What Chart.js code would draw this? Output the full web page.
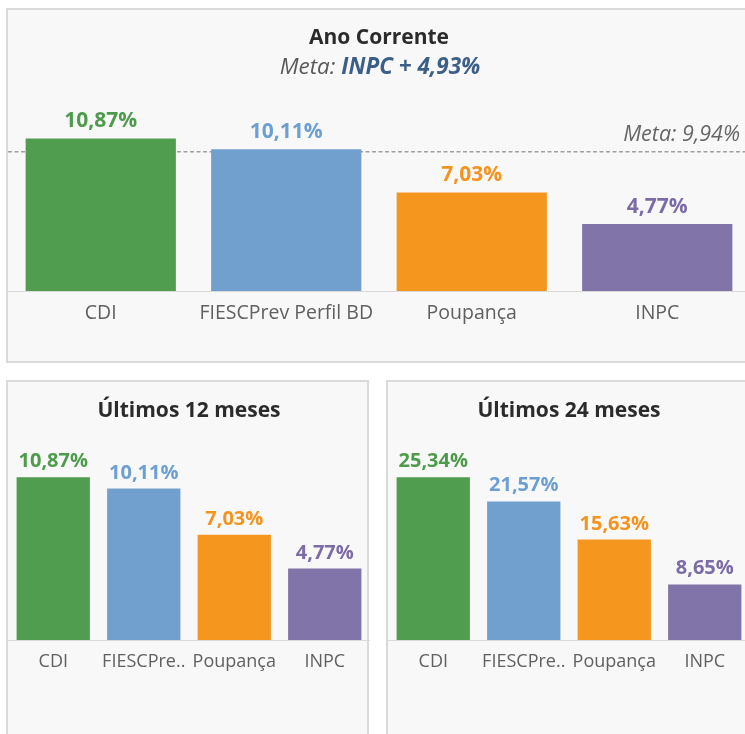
<!DOCTYPE html>
<html>
<head>
<meta charset="utf-8">
<script src="https://cdn.jsdelivr.net/npm/chart.js@4.4.0/dist/chart.umd.min.js"></script>
<style>
  html, body { margin: 0; padding: 0; background: #fff; width: 745px; height: 734px; overflow: hidden; }
  .panel { position: absolute; box-sizing: border-box; border: 2px solid #dadada; background: #f8f8f8; }
  canvas { position: absolute; }
</style>
</head>
<body>
<div class="panel" style="left:6px;top:8px;width:800px;height:355px"></div>
<div class="panel" style="left:6px;top:380px;width:363px;height:400px"></div>
<div class="panel" style="left:386px;top:380px;width:400px;height:400px"></div>
<canvas id="anoCorrente" width="742" height="350" style="left:8px;top:10px"></canvas>
<canvas id="ultimos12" width="362" height="351" style="left:8px;top:383px"></canvas>
<canvas id="ultimos24" width="362" height="351" style="left:388px;top:383px"></canvas>
<script>
const categories = ['CDI', 'FIESCPrev Perfil BD', 'Poupança', 'INPC'];
const anoCorrente = [10.87, 10.11, 7.03, 4.77];
const ultimos12Meses = [10.87, 10.11, 7.03, 4.77];
const ultimos24Meses = [25.34, 21.57, 15.63, 8.65];
const metaAno = 9.94;
const metaSubtitulo = 'INPC + 4,93%';

const barColors = ['#519d50', '#71a0cf', '#f5961f', '#8174a8'];
const labelColors = ['#4e9b4c', '#6c9fd3', '#f4931e', '#7c6ba7'];
const FONT = "'Open Sans', sans-serif";
const HEADROOM = 1.288;

Chart.defaults.font.family = FONT;

const fmt = v => v.toFixed(2).replace('.', ',') + '%';

// percent labels above each bar
const valueLabels = {
  id: 'valueLabels',
  afterDatasetsDraw(chart, args, opts) {
    const ctx = chart.ctx;
    const data = chart.data.datasets[0].data;
    ctx.save();
    ctx.font = 'bold ' + opts.size + 'px ' + FONT;
    ctx.textAlign = 'center';
    ctx.textBaseline = 'alphabetic';
    chart.getDatasetMeta(0).data.forEach((bar, i) => {
      ctx.fillStyle = labelColors[i];
      ctx.fillText(fmt(data[i]), bar.x, bar.y - opts.gap);
    });
    ctx.restore();
  }
};

// dashed target line + "Meta: x%" text
const metaLine = {
  id: 'metaLine',
  beforeDatasetsDraw(chart, args, opts) {
    if (opts.value == null) return;
    const {ctx, chartArea} = chart;
    const y = chart.scales.y.getPixelForValue(opts.value);
    ctx.save();
    ctx.strokeStyle = '#a0a0a0';
    ctx.lineWidth = 1.5;
    ctx.setLineDash([4, 2.5]);
    ctx.beginPath();
    ctx.moveTo(chartArea.left, y);
    ctx.lineTo(chartArea.right, y);
    ctx.stroke();
    ctx.setLineDash([]);
    ctx.font = 'italic 21.5px ' + FONT;
    ctx.fillStyle = '#666';
    ctx.textAlign = 'right';
    ctx.textBaseline = 'alphabetic';
    ctx.fillText('Meta: ' + fmt(opts.value), 732, y - 10.5);
    ctx.restore();
  }
};

// "Meta: INPC + 4,93%" subtitle with two styles
const metaSubtitle = {
  id: 'metaSubtitle',
  afterDraw(chart, args, opts) {
    if (!opts.text) return;
    const ctx = chart.ctx;
    ctx.save();
    const a = 'Meta: ';
    const fa = 'italic 22.5px ' + FONT;
    const fb = 'italic bold 22.5px ' + FONT;
    ctx.font = fa;
    const wa = ctx.measureText(a).width;
    ctx.font = fb;
    const wb = ctx.measureText(opts.text).width;
    let x = chart.width / 2 - (wa + wb) / 2 + 1;
    ctx.textBaseline = 'middle';
    ctx.textAlign = 'left';
    ctx.font = fa;
    ctx.fillStyle = '#595959';
    ctx.fillText(a, x, opts.y);
    ctx.font = fb;
    ctx.fillStyle = '#3b5f87';
    ctx.fillText(opts.text, x + wa, opts.y);
    ctx.restore();
  }
};

function makeBarChart(id, title, values, cfg) {
  const ctx = document.getElementById(id).getContext('2d');
  return new Chart(ctx, {
    type: 'bar',
    data: {
      labels: categories,
      datasets: [{
        data: values,
        backgroundColor: barColors,
        borderWidth: 0,
        categoryPercentage: 1,
        barPercentage: 0.81
      }]
    },
    options: {
      responsive: false,
      animation: false,
      devicePixelRatio: 1,
      layout: { padding: 0 },
      scales: {
        x: {
          grid: { display: false, drawTicks: false },
          border: { display: true, color: '#d9d9d9', width: 1 },
          ticks: {
            color: '#606060',
            font: { size: cfg.tickSize },
            padding: cfg.tickPad,
            autoSkip: false,
            maxRotation: 0,
            callback(value) {
              const lbl = this.getLabelForValue(value);
              return cfg.shortLabels && lbl.length > 10 ? lbl.slice(0, 8) + '..' : lbl;
            }
          },
          afterFit(scale) { scale.height = cfg.axisHeight; }
        },
        y: {
          display: false,
          min: 0,
          max: Math.max(...values) * HEADROOM
        }
      },
      plugins: {
        legend: { display: false },
        tooltip: { enabled: false },
        title: {
          display: true,
          text: title,
          color: '#2b2b2b',
          font: { size: 21, weight: 'bold' },
          padding: { top: cfg.titleTop, bottom: cfg.titleBottom }
        },
        valueLabels: { size: cfg.labelSize, gap: cfg.labelGap },
        metaLine: { value: cfg.meta },
        metaSubtitle: { text: cfg.subtitle, y: 58 }
      }
    },
    plugins: [metaLine, valueLabels, metaSubtitle]
  });
}

makeBarChart('anoCorrente', 'Ano Corrente', anoCorrente, {
  tickSize: 19.5, tickPad: 11, axisHeight: 69,
  titleTop: 15.5, titleBottom: 44,
  labelSize: 21, labelGap: 11.5,
  meta: metaAno, subtitle: metaSubtitulo
});
makeBarChart('ultimos12', 'Últimos 12 meses', ultimos12Meses, {
  tickSize: 18, tickPad: 11, axisHeight: 94, shortLabels: true,
  titleTop: 15, titleBottom: 7.1,
  labelSize: 20, labelGap: 10
});
makeBarChart('ultimos24', 'Últimos 24 meses', ultimos24Meses, {
  tickSize: 18, tickPad: 11, axisHeight: 94, shortLabels: true,
  titleTop: 15, titleBottom: 7.1,
  labelSize: 20, labelGap: 10
});
</script>
</body>
</html>
